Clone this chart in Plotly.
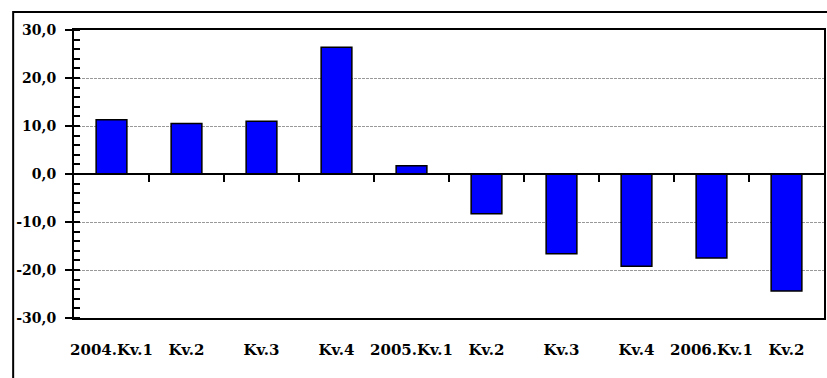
import plotly.graph_objects as go

categories = ["2004.Kv.1", "Kv.2", "Kv.3", "Kv.4", "2005.Kv.1",
              "Kv.2", "Kv.3", "Kv.4", "2006.Kv.1", "Kv.2"]
values = [11.3, 10.5, 11.0, 26.4, 1.7, -8.3, -16.6, -19.2, -17.5, -24.4]
y_ticks = [-30, -20, -10, 0, 10, 20, 30]
y_tick_labels = ["-30,0", "-20,0", "-10,0", "0,0", "10,0", "20,0", "30,0"]

W, H = 827, 378
L, R, T, B = 74, 1, 30, 60
pw, ph = W - L - R, H - T - B

idx = list(range(len(categories)))
boundaries = [i + 0.5 for i in idx[:-1]]


def px_x(px):
    return (px - L) / pw


def px_y(py):
    return (H - B - py) / ph


fig = go.Figure()
fig.add_trace(go.Bar(
    x=idx, y=values,
    marker=dict(color="#0000FF", line=dict(color="black", width=1.5)),
    hoverinfo="skip",
))
# helper trace for zero-line axis with boundary ticks
fig.add_trace(go.Scatter(
    x=[idx[0], idx[-1]], y=[0, 0], xaxis="x2", yaxis="y",
    mode="lines", line=dict(width=0), opacity=0, hoverinfo="skip",
    showlegend=False,
))

xr = [-0.5, len(categories) - 0.5]

fig.update_layout(
    width=W, height=H,
    margin=dict(l=L, r=R, t=T, b=B, pad=0),
    paper_bgcolor="white", plot_bgcolor="white",
    showlegend=False,
    bargap=0.59,
    font=dict(family="DejaVu Serif", size=14, color="black"),
    xaxis=dict(
        range=xr, tickmode="array", tickvals=idx, ticktext=categories,
        ticks="", showgrid=False, zeroline=False,
        showline=True, linecolor="black", linewidth=2, mirror=True,
        tickfont=dict(family="DejaVu Serif", size=15, color="black", weight="bold"),
        ticklabelstandoff=17,
    ),
    xaxis2=dict(
        range=xr, overlaying="x", anchor="free", position=0.5,
        tickmode="array", tickvals=boundaries, ticks="outside",
        ticklen=7, tickwidth=1.5, tickcolor="black",
        showticklabels=False, showgrid=False, zeroline=False,
        showline=True, linecolor="black", linewidth=2,
    ),
    yaxis=dict(
        range=[-30, 30], tickmode="array", tickvals=y_ticks, ticktext=y_tick_labels,
        ticks="outside", ticklen=7, tickwidth=2, tickcolor="black",
        showline=True, linecolor="black", linewidth=2, mirror=True,
        showgrid=True, gridcolor="#999999", griddash="3px,1px", gridwidth=1,
        zeroline=False,
        minor=dict(dtick=2, ticks="inside", ticklen=6, tickwidth=1.5,
                   tickcolor="black", showgrid=False),
        tickfont=dict(family="DejaVu Serif", size=14, color="black", weight="bold"),
        ticklabelstandoff=6,
    ),
)

# major ticks also cross into the plot
for v in y_ticks:
    fig.add_shape(type="line", xref="paper", yref="y",
                  x0=0, x1=6 / pw, y0=v, y1=v,
                  line=dict(color="black", width=2))

# outer frame around the whole chart (continues past the right/bottom edge)
fig.add_shape(type="rect", xref="paper", yref="paper",
              x0=px_x(13), x1=px_x(W + 10),
              y0=px_y(H + 10), y1=px_y(12),
              line=dict(color="black", width=2), layer="below")

# partially visible caption line at the very top
for ch, px in [("(", 12), (")", 130)]:
    fig.add_annotation(text=ch, xref="paper", yref="paper",
                       x=px_x(px), y=px_y(2),
                       xanchor="center", yanchor="bottom",
                       showarrow=False,
                       font=dict(family="DejaVu Serif", size=14, color="black"))

fig.write_html("out.html", config={"displayModeBar": False},
               post_script="document.body.style.margin='0';")
